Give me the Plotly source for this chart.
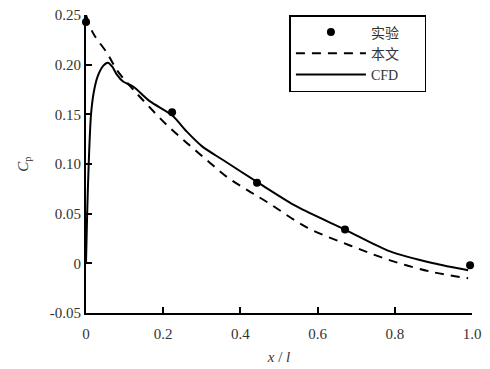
import plotly.graph_objects as go

# Experiment data
exp_x = [0.0, 0.223, 0.443, 0.671, 0.995]
exp_y = [0.243, 0.152, 0.081, 0.034, -0.002]

# Present method (dashed)
txt_x = [0.0, 0.018, 0.054, 0.083, 0.12, 0.158, 0.21, 0.262, 0.313, 0.365, 0.417, 0.472,
         0.573, 0.684, 0.788, 0.9, 0.99]
txt_y = [0.25, 0.232, 0.212, 0.193, 0.176, 0.16, 0.139, 0.121, 0.104, 0.087, 0.074, 0.061,
         0.036, 0.018, 0.003, -0.009, -0.015]

# CFD (solid)
cfd_x = [0.0, 0.003, 0.007, 0.013, 0.02, 0.03, 0.045, 0.057, 0.068, 0.08, 0.096, 0.122,
         0.166, 0.223, 0.26, 0.3, 0.355, 0.443, 0.547, 0.671, 0.788, 0.9, 0.99]
cfd_y = [0.0, 0.05, 0.1, 0.15, 0.172, 0.188, 0.199, 0.202, 0.198, 0.19, 0.183, 0.178,
         0.163, 0.149, 0.133, 0.118, 0.104, 0.082, 0.057, 0.034, 0.012, 0.0, -0.007]

xticks = [0, 0.2, 0.4, 0.6, 0.8, 1.0]
xtick_text = ["0", "0.2", "0.4", "0.6", "0.8", "1.0"]
yticks = [-0.05, 0, 0.05, 0.10, 0.15, 0.20, 0.25]
ytick_text = ["-0.05", "0", "0.05", "0.10", "0.15", "0.20", "0.25"]

font = "Liberation Serif, Times New Roman, serif"
pad = "\u00a0" * 6

fig = go.Figure()
fig.add_trace(go.Scatter(x=exp_x, y=exp_y, mode="markers", name="实验" + pad,
                         marker=dict(color="black", size=8), cliponaxis=False))
fig.add_trace(go.Scatter(x=txt_x, y=txt_y, mode="lines", name="本文" + pad,
                         line=dict(color="black", width=2, dash="9px,7px", shape="spline"),
                         cliponaxis=False))
fig.add_trace(go.Scatter(x=cfd_x, y=cfd_y, mode="lines", name="CFD" + pad,
                         line=dict(color="black", width=2, shape="spline", smoothing=0.8),
                         cliponaxis=False))

fig.update_layout(
    width=490, height=369,
    margin=dict(l=86, r=18, t=15, b=56, autoexpand=False),
    paper_bgcolor="white", plot_bgcolor="white",
    font=dict(family=font, size=15, color="#333"),
    showlegend=True,
    legend=dict(x=0.527, y=1.0, xanchor="left", yanchor="top",
                bordercolor="black", borderwidth=1.5, bgcolor="white",
                font=dict(family=font + ", Noto Sans CJK SC", size=14, color="#333"),
                tracegroupgap=0, itemwidth=70),
    xaxis=dict(range=[0, 1.0], tickvals=xticks, ticktext=xtick_text,
               showline=True, linecolor="black", linewidth=2,
               ticks="inside", ticklen=6, tickwidth=2, tickcolor="black",
               ticklabelstandoff=6, automargin=False,
               showgrid=False, zeroline=False,
               title=dict(text="<i>x</i> / <i>l</i>", standoff=10,
                          font=dict(family=font, size=15))),
    yaxis=dict(range=[-0.05, 0.25], tickvals=yticks, ticktext=ytick_text,
               showline=True, linecolor="black", linewidth=2,
               ticks="inside", ticklen=6, tickwidth=2, tickcolor="black",
               automargin=False,
               showgrid=False, zeroline=False,
               title=dict(text="<i>C</i><sub>p</sub>", standoff=18,
                          font=dict(family=font, size=15))),
)

fig.write_html("out.html")
